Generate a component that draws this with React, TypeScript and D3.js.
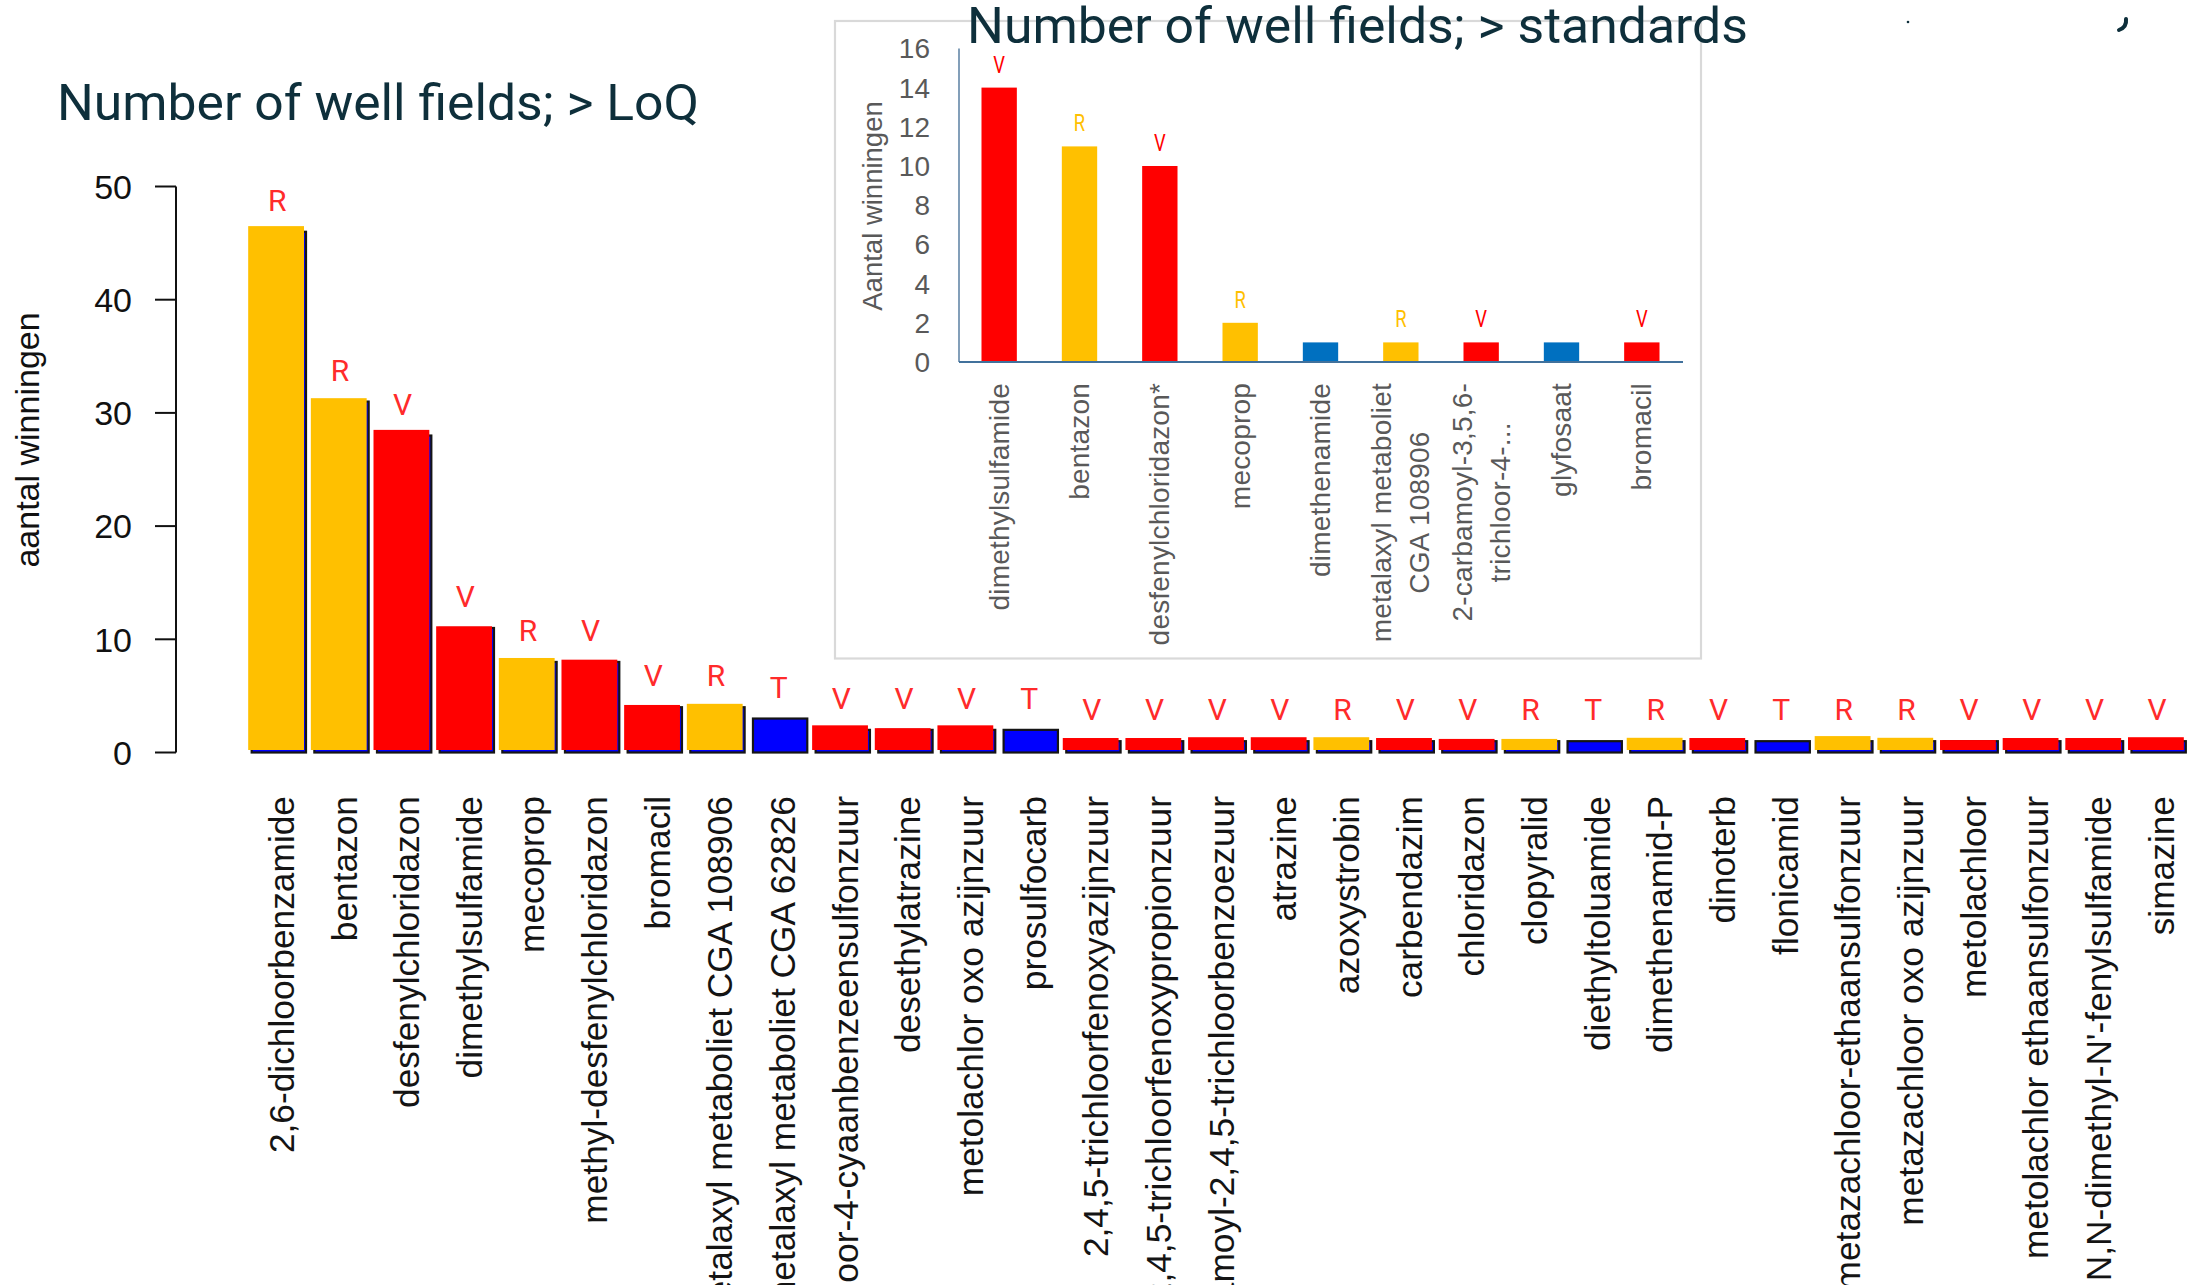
import React, { useEffect, useRef } from "react";
import * as d3 from "d3";

const W = 2203;
const H = 1285;

// ---------- main chart data (> LoQ) ----------
const mainCategories = [
  "2,6-dichloorbenzamide",
  "bentazon",
  "desfenylchloridazon",
  "dimethylsulfamide",
  "mecoprop",
  "methyl-desfenylchloridazon",
  "bromacil",
  "metalaxyl metaboliet CGA 108906",
  "metalaxyl metaboliet CGA 62826",
  "2-chloor-4-cyaanbenzeensulfonzuur",
  "desethylatrazine",
  "metolachlor oxo azijnzuur",
  "prosulfocarb",
  "2,4,5-trichloorfenoxyazijnzuur",
  "2,4,5-trichloorfenoxypropionzuur",
  "3-carbamoyl-2,4,5-trichloorbenzoezuur",
  "atrazine",
  "azoxystrobin",
  "carbendazim",
  "chloridazon",
  "clopyralid",
  "diethyltoluamide",
  "dimethenamid-P",
  "dinoterb",
  "flonicamid",
  "metazachloor-ethaansulfonzuur",
  "metazachloor oxo azijnzuur",
  "metolachloor",
  "metolachlor ethaansulfonzuur",
  "N,N-dimethyl-N'-fenylsulfamide",
  "simazine",
];
// underlying counts (original bars)
const mainCounts = [46, 31, 28, 11, 8, 8, 4, 4, 3, 2, 2, 2, 2, 1, 1, 1, 1, 1, 1, 1, 1, 1, 1, 1, 1, 1, 1, 1, 1, 1, 1];
// heights of the coloured overlays as painted on top
const mainPainted = [46.5, 31.3, 28.5, 11.15, 8.35, 8.2, 4.2, 4.3, 3, 2.4, 2.15, 2.4, 2, 1.28, 1.28, 1.35, 1.35, 1.35, 1.28, 1.2, 1.2, 1, 1.3, 1.28, 1, 1.45, 1.3, 1.1, 1.28, 1.28, 1.35];
const mainCodes = ["R", "R", "V", "V", "R", "V", "V", "R", "T", "V", "V", "V", "T", "V", "V", "V", "V", "R", "V", "V", "R", "T", "R", "V", "T", "R", "R", "V", "V", "V", "V"];
const mainTicks = [0, 10, 20, 30, 40, 50];

// ---------- inset data (> standards) ----------
const insetCategories = [
  "dimethylsulfamide",
  "bentazon",
  "desfenylchloridazon*",
  "mecoprop",
  "dimethenamide",
  "metalaxyl metaboliet\nCGA 108906",
  "2-carbamoyl-3,5,6-\ntrichloor-4-...",
  "glyfosaat",
  "bromacil",
];
const insetValues = [14, 11, 10, 2, 1, 1, 1, 1, 1];
const insetCodes = ["V", "R", "V", "R", "", "R", "V", "", "V"];
const insetTicks = [0, 2, 4, 6, 8, 10, 12, 14, 16];

const codeColor: Record<string, string> = { R: "#ffc000", V: "#ff0000", T: "#0000ff" };
const insetColor: Record<string, string> = { R: "#ffc000", V: "#ff0000", "": "#0070c0" };

export default function App() {
  const ref = useRef<SVGSVGElement>(null);

  useEffect(() => {
    const svg = d3.select(ref.current);
    svg.selectAll("*").remove();

    svg.append("rect").attr("width", W).attr("height", H).attr("fill", "#ffffff");

    const titleFont = "Roboto, 'Noto Sans', sans-serif";
    const arial = "'Liberation Sans', Arial, sans-serif";

    // ================= MAIN CHART =================
    const x = d3.scaleBand<string>().domain(mainCategories).range([247.5, 2190]).paddingInner(0.133).paddingOuter(0.0667);
    const y = d3.scaleLinear().domain([0, 50]).range([752.5, 186.5]);
    const bw = x.bandwidth();

    svg.append("text")
      .attr("x", 57).attr("y", 120)
      .attr("font-family", titleFont).attr("font-size", 50)
      .attr("fill", "#0e2f3b")
      .attr("textLength", 642).attr("lengthAdjust", "spacingAndGlyphs")
      .text("Number of well fields; > LoQ");

    const gm = svg.append("g");
    // y axis
    gm.append("line").attr("x1", 176).attr("x2", 176).attr("y1", y(50)).attr("y2", y(0))
      .attr("stroke", "#111").attr("stroke-width", 2);
    gm.selectAll("line.tick").data(mainTicks).join("line").attr("class", "tick")
      .attr("x1", 155).attr("x2", 176).attr("y1", d => y(d)).attr("y2", d => y(d))
      .attr("stroke", "#111").attr("stroke-width", 2);
    gm.selectAll("text.tick").data(mainTicks).join("text").attr("class", "tick")
      .attr("x", 132).attr("y", d => y(d)).attr("dy", "0.36em")
      .attr("text-anchor", "end").attr("font-family", arial).attr("font-size", 34).attr("fill", "#111")
      .text(d => String(d));
    gm.append("text")
      .attr("transform", "translate(39,440) rotate(-90)")
      .attr("text-anchor", "middle").attr("font-family", arial).attr("font-size", 34).attr("fill", "#111")
      .text("aantal winningen");

    // base (original) bars
    gm.selectAll("rect.base").data(mainCategories).join("rect").attr("class", "base")
      .attr("x", d => x(d)!).attr("y", (d, i) => y(mainCounts[i]))
      .attr("width", bw).attr("height", (d, i) => y(0) - y(mainCounts[i]))
      .attr("fill", "#0000ff").attr("stroke", "#151515").attr("stroke-width", 2.2);
    // coloured overlays
    const overlayIdx = mainCategories.map((c, i) => i).filter(i => mainCodes[i] !== "T");
    gm.selectAll("rect.over").data(overlayIdx).join("rect").attr("class", "over")
      .attr("x", i => x(mainCategories[i])! - 3.5).attr("y", i => y(mainPainted[i]))
      .attr("width", bw + 1.5).attr("height", i => y(0) - 2.5 - y(mainPainted[i]))
      .attr("fill", i => codeColor[mainCodes[i]]);
    // letter labels
    gm.selectAll("text.code").data(mainCategories).join("text").attr("class", "code")
      .attr("x", d => x(d)! + bw / 2 - 1.5).attr("y", (d, i) => y(mainCounts[i]) - 21)
      .attr("text-anchor", "middle").attr("font-family", titleFont).attr("font-size", 30)
      .attr("fill", "#ff2b2b")
      .text((d, i) => mainCodes[i]);
    // category labels
    gm.selectAll("text.cat").data(mainCategories).join("text").attr("class", "cat")
      .attr("transform", d => `translate(${x(d)! + bw / 2 + 15},796) rotate(-90)`)
      .attr("text-anchor", "end").attr("font-family", arial).attr("font-size", 35.3).attr("fill", "#141414")
      .text(d => d);

    // ================= INSET =================
    svg.append("rect").attr("x", 835).attr("y", 21).attr("width", 866).attr("height", 637.5)
      .attr("fill", "#ffffff").attr("stroke", "#d9d9d9").attr("stroke-width", 2.2);

    svg.append("text")
      .attr("x", 967).attr("y", 43)
      .attr("font-family", titleFont).attr("font-size", 50)
      .attr("fill", "#0e2f3b")
      .attr("textLength", 781).attr("lengthAdjust", "spacingAndGlyphs")
      .text("Number of well fields; > standards");

    const xi = d3.scaleBand<string>().domain(insetCategories).range([959, 1682]).paddingInner(0.56).paddingOuter(0.28);
    const yi = d3.scaleLinear().domain([0, 16]).range([362, 48.4]);
    const gi = svg.append("g");
    const gray = "#595959";

    gi.selectAll("text.tick").data(insetTicks).join("text").attr("class", "tick")
      .attr("x", 930).attr("y", d => yi(d)).attr("dy", "0.36em")
      .attr("text-anchor", "end").attr("font-family", arial).attr("font-size", 28).attr("fill", gray)
      .text(d => String(d));
    gi.append("text")
      .attr("transform", "translate(882,206) rotate(-90)")
      .attr("text-anchor", "middle").attr("font-family", arial).attr("font-size", 27.5)
      .attr("fill", gray)
      .text("Aantal winningen");

    gi.selectAll("rect.bar").data(insetCategories).join("rect").attr("class", "bar")
      .attr("x", d => xi(d)!).attr("y", (d, i) => yi(insetValues[i]))
      .attr("width", xi.bandwidth()).attr("height", (d, i) => yi(0) - yi(insetValues[i]))
      .attr("fill", (d, i) => insetColor[insetCodes[i]]);

    gi.append("line").attr("x1", 959).attr("x2", 959).attr("y1", yi(16)).attr("y2", yi(0))
      .attr("stroke", "#2f5f8a").attr("stroke-width", 1.2);
    gi.append("line").attr("x1", 959).attr("x2", 1683).attr("y1", yi(0)).attr("y2", yi(0))
      .attr("stroke", "#41719c").attr("stroke-width", 2);

    gi.selectAll("text.code").data(insetCategories).join("text").attr("class", "code")
      .attr("transform", (d, i) => `translate(${xi(d)! + xi.bandwidth() / 2},${yi(insetValues[i]) - 15}) scale(0.8,1)`)
      .attr("text-anchor", "middle").attr("font-family", titleFont).attr("font-size", 23)
      .attr("fill", (d, i) => (insetCodes[i] === "R" ? "#ffc000" : "#ff0000"))
      .text((d, i) => insetCodes[i]);

    // category labels (rotated, centre aligned block)
    insetCategories.forEach(cat => {
      const lines = cat.split("\n");
      const cx = xi(cat)! + xi.bandwidth() / 2;
      const grp = gi.append("g").attr("transform", `translate(${cx},383) rotate(-90)`);
      const texts = lines.map((ln, k) =>
        grp.append("text")
          .attr("font-family", arial).attr("font-size", 28).attr("letter-spacing", 0.2)
          .attr("fill", gray)
          .attr("y", 9.5 + (k - (lines.length - 1) / 2) * 38)
          .text(ln)
      );
      const lens = texts.map(t => (t.node() as SVGTextElement).getComputedTextLength());
      const maxLen = Math.max(...lens);
      texts.forEach(t => t.attr("text-anchor", "middle").attr("x", -maxLen / 2));
    });

    // stray fragments at top right
    svg.append("circle").attr("cx", 1908).attr("cy", 22).attr("r", 1.3).attr("fill", "#0e2f3b");
    svg.append("path").attr("d", "M2126,19 Q2127,27 2119,30").attr("fill", "none")
      .attr("stroke", "#0e2f3b").attr("stroke-width", 4).attr("stroke-linecap", "round");
  }, []);

  return (
    <svg
      ref={ref}
      width={W}
      height={H}
      style={{ position: "absolute", left: 0, top: 0, display: "block", background: "#fff" }}
    />
  );
}
